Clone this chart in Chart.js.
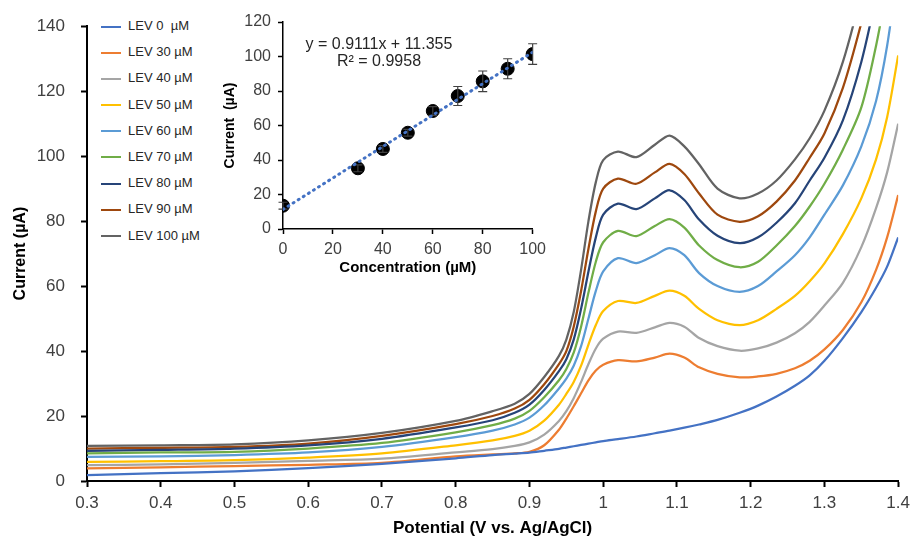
<!DOCTYPE html>
<html>
<head>
<meta charset="utf-8">
<script src="https://cdn.jsdelivr.net/npm/chart.js@4.4.0/dist/chart.umd.min.js"></script>
<style>
  body { margin: 0; background: #fff; font-family: 'Liberation Sans', Arial, sans-serif; }
  #wrap { position: relative; width: 916px; height: 540px; overflow: hidden; }
  #mainChart { position: absolute; left: 0; top: 0; }
  #insetBox { position: absolute; left: 222px; top: 0; width: 330px; height: 280px; background: #fff; }
  #legend { position: absolute; left: 93px; top: 13px; width: 124px; background: #fff; }
  .leg-row { position: relative; height: 26.2px; }
  .leg-line { position: absolute; left: 8px; top: 12.5px; width: 20px; height: 2px; }
  .leg-text { position: absolute; left: 35px; top: 5px; font-size: 13px; color: #262626; white-space: pre; }
</style>
</head>
<body>
<div id="wrap">
  <canvas id="mainChart" width="916" height="540"></canvas>
  <div id="legend"></div>
  <div id="insetBox"><canvas id="insetChart" width="330" height="280"></canvas></div>
</div>
<script>
// Main voltammograms
const potential = [0.30, 0.40, 0.50, 0.60, 0.70, 0.80, 0.85, 0.88, 0.90, 0.92, 0.94, 0.95, 0.96, 0.97, 0.98, 0.99, 1.00, 1.02, 1.045, 1.07, 1.09, 1.11, 1.13, 1.155, 1.185, 1.21, 1.235, 1.26, 1.28, 1.30, 1.325, 1.35, 1.37, 1.385, 1.40];

const lev0   = [1.8, 2.4, 3.0, 4.0, 5.3, 7.0, 8.0, 8.4, 8.7, 9.3, 9.9, 10.3, 10.7, 11.1, 11.5, 11.9, 12.3, 12.9, 13.7, 14.7, 15.5, 16.4, 17.4, 18.8, 21.0, 23.2, 26.0, 29.3, 32.5, 37.0, 44.0, 52.0, 59.5, 66.0, 75.0];
const lev30  = [3.9, 4.2, 4.6, 5.0, 5.6, 7.6, 8.2, 8.5, 9.0, 11.0, 15.8, 19.2, 23.0, 27.0, 31.0, 34.0, 35.8, 37.2, 36.8, 38.0, 39.2, 38.0, 35.0, 33.0, 31.9, 32.2, 33.0, 34.7, 37.0, 40.5, 46.5, 55.0, 65.0, 75.0, 88.0];
const lev40  = [4.9, 5.1, 5.6, 6.2, 6.9, 8.8, 9.8, 10.8, 11.9, 14.3, 18.5, 21.5, 25.5, 30.5, 36.0, 40.8, 43.8, 46.0, 45.6, 47.3, 48.7, 47.5, 44.0, 41.5, 40.1, 40.8, 42.6, 45.5, 49.0, 54.0, 61.0, 72.0, 84.0, 95.0, 110.0];
const lev50  = [5.9, 6.1, 6.4, 7.2, 8.5, 11.0, 12.5, 13.9, 15.5, 18.6, 23.5, 26.8, 30.5, 35.5, 42.0, 48.0, 52.3, 55.4, 54.8, 57.0, 58.6, 57.0, 53.0, 49.5, 48.0, 49.5, 53.0, 57.0, 61.5, 67.0, 76.0, 87.0, 99.0, 112.0, 131.0];
const lev60  = [7.4, 7.6, 8.0, 8.8, 10.5, 13.5, 15.5, 17.4, 19.5, 23.3, 28.5, 31.5, 35.5, 41.5, 50.0, 58.5, 64.5, 68.6, 67.1, 69.5, 71.7, 69.5, 64.0, 60.0, 58.2, 60.0, 64.5, 69.5, 75.0, 82.0, 91.0, 103.0, 117.0, 134.0, 158.0];
const lev70  = [8.5, 8.8, 9.0, 10.0, 11.7, 15.0, 17.2, 19.2, 21.6, 25.8, 31.0, 34.5, 39.5, 47.5, 58.0, 67.5, 73.5, 77.0, 75.4, 78.5, 80.6, 78.0, 72.5, 68.0, 65.8, 67.5, 72.5, 78.5, 84.5, 91.5, 102.0, 115.0, 134.0, 152.0, 170.0];
const lev80  = [9.3, 9.6, 10.0, 11.0, 13.0, 16.5, 18.7, 21.0, 23.5, 28.0, 33.8, 37.5, 43.5, 53.0, 64.5, 75.0, 82.0, 85.4, 83.7, 87.0, 89.5, 86.5, 80.5, 75.5, 73.2, 75.0, 79.5, 85.5, 92.5, 99.5, 111.0, 129.0, 149.0, 165.0, 181.0];
const lev90  = [10.0, 10.2, 10.5, 11.5, 13.9, 17.5, 20.0, 22.3, 25.0, 29.8, 36.0, 40.0, 47.5, 58.5, 71.5, 83.0, 90.0, 93.1, 91.5, 95.0, 97.6, 94.5, 88.5, 82.0, 79.8, 81.5, 86.0, 92.5, 99.5, 107.0, 121.0, 141.0, 160.0, 175.0, 190.0];
const lev100 = [10.8, 11.0, 11.3, 12.5, 14.8, 18.5, 21.5, 23.8, 26.8, 32.0, 38.5, 43.5, 52.0, 65.0, 80.0, 92.0, 98.8, 101.4, 99.7, 103.5, 106.3, 103.0, 97.5, 90.0, 87.0, 88.5, 92.5, 99.0, 105.5, 114.0, 129.0, 150.0, 170.0, 186.0, 202.0];

const seriesLabels = ['LEV 0  \u00b5M', 'LEV 30 \u00b5M', 'LEV 40 \u00b5M', 'LEV 50 \u00b5M', 'LEV 60 \u00b5M', 'LEV 70 \u00b5M', 'LEV 80 \u00b5M', 'LEV 90 \u00b5M', 'LEV 100 \u00b5M'];
const seriesColors = ['#4472C4', '#ED7D31', '#A5A5A5', '#FFC000', '#5B9BD5', '#70AD47', '#264478', '#9E480E', '#636363'];
const seriesValues = [lev0, lev30, lev40, lev50, lev60, lev70, lev80, lev90, lev100];

// Calibration inset
const concentration = [0, 30, 40, 50, 60, 70, 80, 90, 100];
const peakCurrent = [13.5, 35.2, 46.4, 55.8, 68.4, 77.1, 85.6, 92.9, 101.4];
const currentError = [2, 2, 2, 2, 2.5, 5.5, 6, 5.8, 6];
const trendX = [0, 100];
const trendY = [11.36, 102.47];

const axisFont = "'Liberation Sans', Arial, sans-serif";
const tickColor = '#404040';

// Main chart
const mainCtx = document.getElementById('mainChart');
const mainChart = new Chart(mainCtx, {
  type: 'line',
  data: {
    datasets: seriesValues.map((vals, i) => ({
      label: seriesLabels[i],
      data: potential.map((p, j) => ({ x: p, y: vals[j] })),
      borderColor: seriesColors[i],
      backgroundColor: seriesColors[i],
      borderWidth: 2.25,
      pointRadius: 0,
      tension: 0.3,
      fill: false
    }))
  },
  options: {
    responsive: false,
    animation: false,
    layout: { padding: { top: 23, right: 15, left: 0, bottom: 0 } },
    plugins: { legend: { display: false }, tooltip: { enabled: false } },
    scales: {
      x: {
        type: 'linear',
        min: 0.3,
        max: 1.4,
        afterFit: (scale) => { scale.height = 59; },
        grid: { drawOnChartArea: false, drawTicks: true, tickLength: 6, tickColor: '#000', tickWidth: 2 },
        border: { display: true, color: '#000', width: 2 },
        ticks: {
          stepSize: 0.1,
          padding: 6,
          color: tickColor,
          font: { family: axisFont, size: 17 },
          maxRotation: 0,
          callback: (v) => String(Number(v.toFixed(1)))
        },
        title: {
          display: true,
          text: 'Potential (V vs. Ag/AgCl)',
          color: '#000',
          font: { family: axisFont, size: 17, weight: 'bold' },
          padding: { top: 0, bottom: 1 }
        }
      },
      y: {
        min: 0,
        max: 140,
        afterFit: (scale) => { scale.width = 87; },
        grid: { drawOnChartArea: false, drawTicks: true, tickLength: 6, tickColor: '#000', tickWidth: 2 },
        border: { display: true, color: '#000', width: 2 },
        ticks: {
          stepSize: 20,
          padding: 16,
          color: tickColor,
          font: { family: axisFont, size: 17 }
        },
        title: {
          display: true,
          text: 'Current (\u00b5A)',
          color: '#000',
          font: { family: axisFont, size: 16, weight: 'bold' },
          padding: { top: 11, bottom: 0 }
        }
      }
    }
  }
});

// HTML legend from the chart's datasets
const legendEl = document.getElementById('legend');
mainChart.data.datasets.forEach(ds => {
  const row = document.createElement('div');
  row.className = 'leg-row';
  row.innerHTML = '<div class="leg-line" style="background:' + ds.borderColor + '"></div>' +
                  '<div class="leg-text"></div>';
  row.querySelector('.leg-text').textContent = ds.label;
  legendEl.appendChild(row);
});

// Error bars for the inset (drawn right after the marker dataset)
const errorBars = {
  id: 'errorBars',
  afterDatasetDraw(chart, args) {
    if (args.index !== 0) return;
    const { ctx, scales: { x, y } } = chart;
    ctx.save();
    ctx.strokeStyle = '#404040';
    ctx.lineWidth = 1.2;
    concentration.forEach((c, i) => {
      const px = x.getPixelForValue(c);
      const top = y.getPixelForValue(peakCurrent[i] + currentError[i]);
      const bot = y.getPixelForValue(peakCurrent[i] - currentError[i]);
      ctx.beginPath();
      ctx.moveTo(px, top); ctx.lineTo(px, bot);
      ctx.moveTo(px - 4.5, top); ctx.lineTo(px + 4.5, top);
      ctx.moveTo(px - 4.5, bot); ctx.lineTo(px + 4.5, bot);
      ctx.stroke();
    });
    ctx.restore();
  }
};

// Equation text
const equationText = {
  id: 'equationText',
  afterDraw(chart) {
    const { ctx } = chart;
    ctx.save();
    ctx.fillStyle = '#262626';
    ctx.font = "16px 'Liberation Sans', Arial, sans-serif";
    ctx.textAlign = 'center';
    ctx.textBaseline = 'middle';
    ctx.fillText('y = 0.9111x + 11.355', 157, 45);
    ctx.fillText('R\u00b2 = 0.9958', 157, 62);
    ctx.restore();
  }
};

const insetCtx = document.getElementById('insetChart');
new Chart(insetCtx, {
  type: 'scatter',
  data: {
    datasets: [
      {
        label: 'LEV',
        data: concentration.map((c, i) => ({ x: c, y: peakCurrent[i] })),
        backgroundColor: '#000',
        borderColor: '#000',
        pointRadius: 6.5,
        order: 1
      },
      {
        type: 'line',
        label: 'Linear fit',
        data: trendX.map((t, i) => ({ x: t, y: trendY[i] })),
        borderColor: '#4472C4',
        borderWidth: 3,
        borderDash: [1, 5],
        borderCapStyle: 'round',
        pointRadius: 0,
        fill: false,
        order: 0
      }
    ]
  },
  options: {
    responsive: false,
    animation: false,
    layout: { padding: { top: 22, right: 19, left: 0, bottom: 0 } },
    plugins: { legend: { display: false }, tooltip: { enabled: false } },
    scales: {
      x: {
        type: 'linear',
        min: 0,
        max: 100,
        afterFit: (scale) => { scale.height = 51; },
        grid: { drawOnChartArea: false, tickLength: 5, tickColor: '#000', tickWidth: 1.5 },
        border: { display: true, color: '#000', width: 1.5 },
        ticks: { stepSize: 20, padding: 6, color: tickColor, font: { family: axisFont, size: 16 }, maxRotation: 0 },
        title: {
          display: true,
          text: 'Concentration (\u00b5M)',
          color: '#000',
          font: { family: axisFont, size: 15, weight: 'bold' },
          padding: { top: 0, bottom: 3 }
        }
      },
      y: {
        min: 0,
        max: 120,
        afterFit: (scale) => { scale.width = 61; },
        grid: { drawOnChartArea: false, tickLength: 5, tickColor: '#000', tickWidth: 1.5 },
        border: { display: true, color: '#000', width: 1.5 },
        ticks: { stepSize: 20, padding: 7, color: tickColor, font: { family: axisFont, size: 16 } },
        title: {
          display: true,
          text: 'Current  (\u00b5A)',
          color: '#000',
          font: { family: axisFont, size: 14, weight: 'bold' },
          padding: { top: 0, bottom: 0 }
        }
      }
    }
  },
  plugins: [errorBars, equationText]
});
</script>
</body>
</html>
